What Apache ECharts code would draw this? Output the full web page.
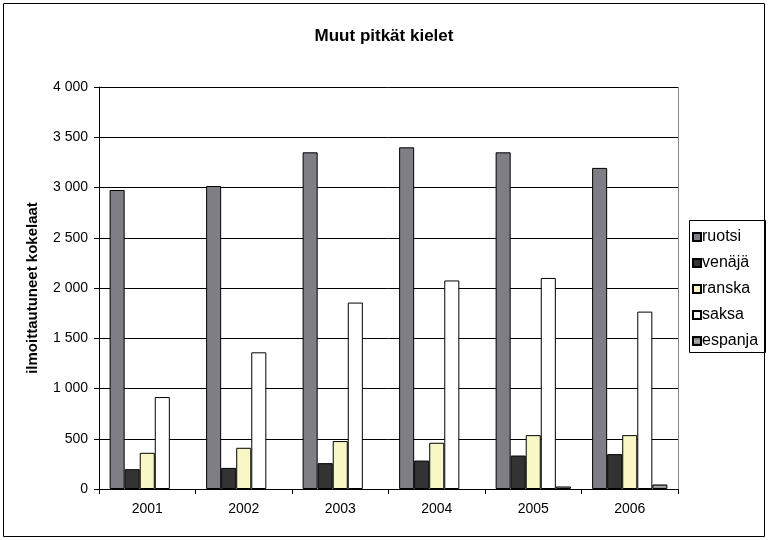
<!DOCTYPE html>
<html>
<head>
<meta charset="utf-8">
<script src="https://cdn.jsdelivr.net/npm/echarts@6/dist/echarts.min.js"></script>
<style>html,body{margin:0;padding:0;background:#fff}#c{width:768px;height:540px}</style>
</head>
<body>
<div id="c"></div>
<script>
var categories = ['2001', '2002', '2003', '2004', '2005', '2006'];
var ruotsi  = [2975, 3015, 3350, 3400, 3350, 3195];
var venaja  = [197, 210, 257, 283, 333, 347];
var ranska  = [360, 410, 477, 460, 536, 536];
var saksa   = [915, 1360, 1855, 2075, 2100, 1765];
var espanja = [null, null, null, null, 25, 45];
var seriesNames = ['ruotsi', 'venäjä', 'ranska', 'saksa', 'espanja'];
var yTicks = [0, 500, 1000, 1500, 2000, 2500, 3000, 3500, 4000];

var font = '"Liberation Sans", Arial, sans-serif';
var chart = echarts.init(document.getElementById('c'), null, {renderer: 'canvas'});

function fmt(v) {
  return String(v).replace(/\B(?=(\d{3})+(?!\d))/g, ' ');
}

var colors = [
  '#7e7e84',
  '#333333',
  '#f9f7c6',
  '#ffffff',
  new echarts.graphic.LinearGradient(0, 0, 0, 1, [
    {offset: 0, color: '#4a4a4a'},
    {offset: 0.5, color: '#b0b0b0'},
    {offset: 1, color: '#6a6a6a'}
  ])
];
var dataSets = [ruotsi, venaja, ranska, saksa, espanja];

var series = dataSets.map(function (d, i) {
  return {
    name: seriesNames[i],
    type: 'bar',
    data: d,
    barGap: '0%',
    barCategoryGap: '22%',
    itemStyle: {color: colors[i], borderColor: '#000', borderWidth: 1},
    emphasis: {disabled: true},
    animation: false
  };
});

chart.setOption({
  backgroundColor: '#fff',
  animation: false,
  title: {
    text: 'Muut pitkät kielet',
    left: 'center',
    top: 23,
    textStyle: {fontFamily: font, fontSize: 17, fontWeight: 'bold', color: '#000'}
  },
  grid: {left: 99, right: 90, top: 87, bottom: 51, containLabel: false},
  legend: {
    orient: 'vertical',
    left: 692,
    top: 229,
    padding: 0,
    itemWidth: 8,
    itemHeight: 8,
    itemGap: 10,
    icon: 'rect',
    textStyle: {fontFamily: font, fontSize: 16, color: '#000', padding: [0, 0, 0, -4]},
    data: seriesNames
  },
  xAxis: {
    type: 'category',
    data: categories,
    axisLine: {lineStyle: {color: '#000', width: 1}},
    axisTick: {show: true, alignWithLabel: false, length: 5, lineStyle: {color: '#000'}},
    axisLabel: {fontFamily: font, fontSize: 14, color: '#000', margin: 13},
    splitLine: {show: false}
  },
  yAxis: {
    type: 'value',
    min: 0,
    max: 4000,
    interval: 500,
    name: 'ilmoittautuneet kokelaat',
    nameLocation: 'middle',
    nameGap: 59,
    nameTextStyle: {fontFamily: font, fontSize: 15, fontWeight: 'bold', color: '#000'},
    axisLine: {show: true, lineStyle: {color: '#000', width: 1}},
    axisTick: {show: true, length: 5, lineStyle: {color: '#000'}},
    axisLabel: {fontFamily: font, fontSize: 14, color: '#000', margin: 11, formatter: fmt},
    splitLine: {show: true, lineStyle: {color: '#000', width: 1}}
  },
  graphic: [
    {type: 'rect', shape: {x: 3.5, y: 3.5, width: 761, height: 533}, style: {fill: 'none', stroke: '#000', lineWidth: 1}, silent: true, z: -1},
    {type: 'line', shape: {x1: 678.5, y1: 87, x2: 678.5, y2: 489}, style: {stroke: '#888', lineWidth: 1}, silent: true},
    {type: 'rect', shape: {x: 689.5, y: 220.5, width: 76, height: 132}, style: {fill: 'none', stroke: '#000', lineWidth: 1}, silent: true}
  ],
  series: series
});
</script>
</body>
</html>
